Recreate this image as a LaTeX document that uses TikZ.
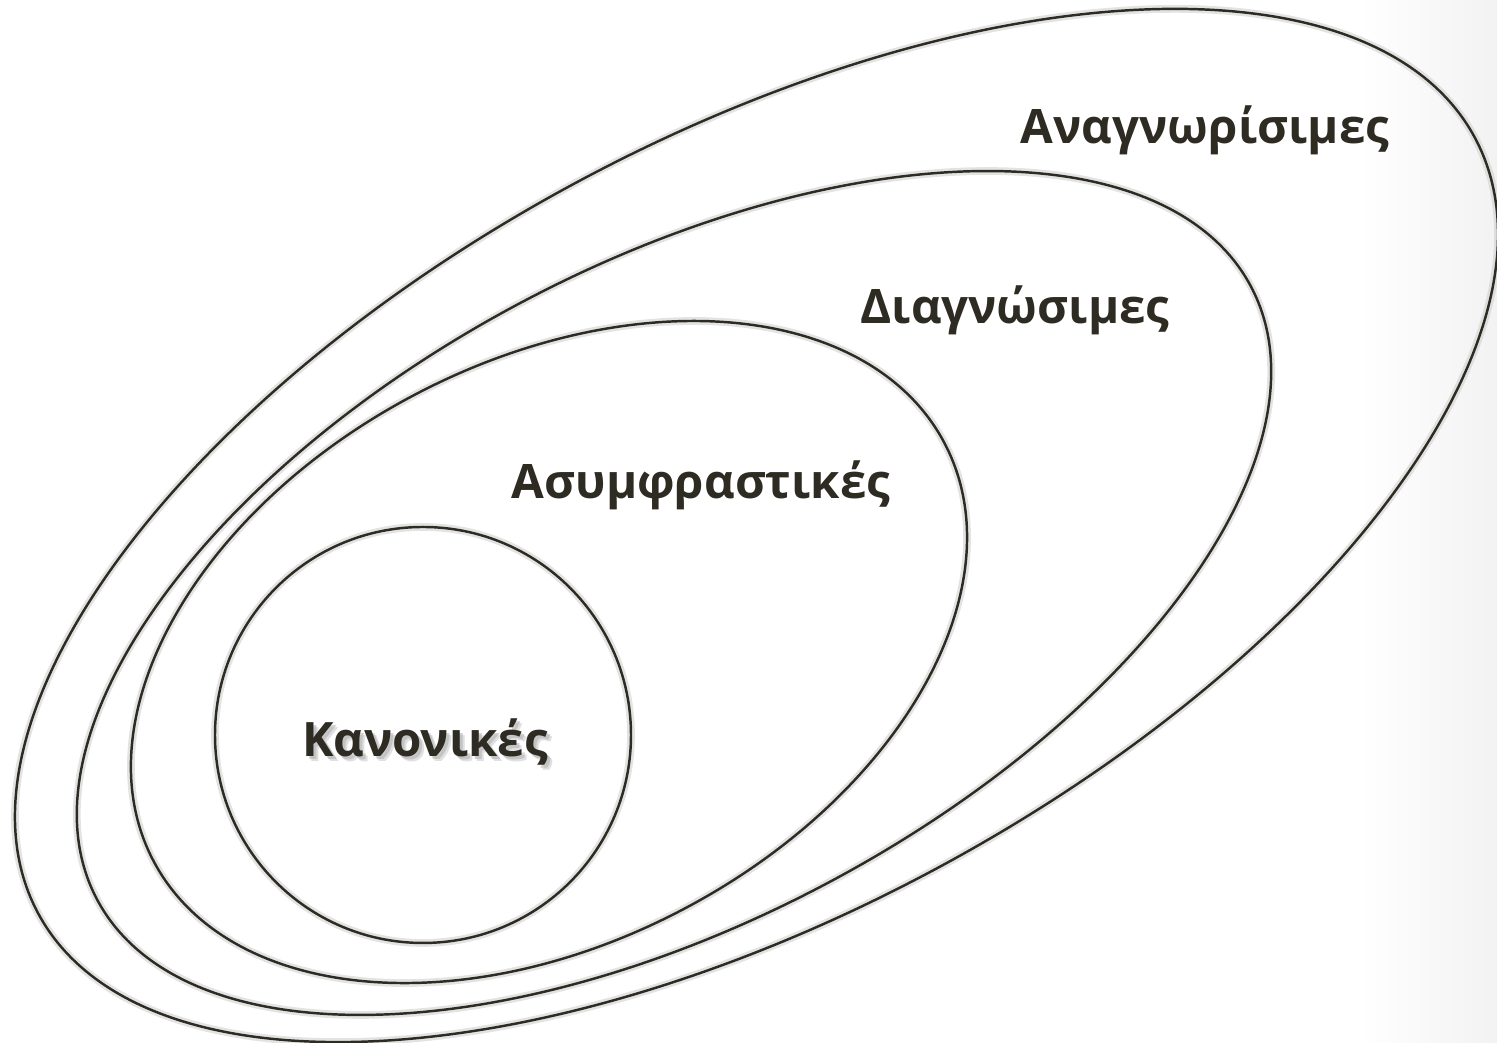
\documentclass[tikz,border=0pt]{standalone}
\usepackage{fontspec}
\setsansfont{Open Sans}
\usetikzlibrary{calc}
\definecolor{ink}{RGB}{46,43,35}
\begin{document}
\begin{tikzpicture}[every node/.style={font=\sffamily\bfseries\fontsize{13.5}{16}\selectfont, text=ink}, rim/.style={draw=ink, line width=0.7pt}, rimshade/.style={draw=black!18, line width=2.2pt, opacity=0.6, shift={(0.025,-0.03)}}]
	\useasboundingbox (0,0) rectangle (14.97,10.43);
	\shade[left color=white, right color=black!5] (13.6,0) rectangle (14.97,10.43);
	\coordinate (Rec) at (7.565,5.175);
	\coordinate (Dec) at (6.74,4.50);
	\coordinate (Ctx) at (5.49,3.91);
	\coordinate (Reg) at (4.23,3.08);
	\foreach \c/\a/\b/\t in {Rec/8.164/3.874/28.4, Dec/6.533/3.282/28.0, Ctx/4.473/2.902/27.9} {
		\draw[rimshade, rotate around={\t:(\c)}] (\c) ellipse ({\a} and {\b});
		\draw[rim, rotate around={\t:(\c)}] (\c) ellipse ({\a} and {\b});
	}
	\draw[rimshade] (Reg) circle (2.08);
	\draw[rim] (Reg) circle (2.08);
	\node (rec) at (12.05,9.13) {Αναγνωρίσιμες};
	\node (dec) at (10.15,7.33) {Διαγνώσιμες};
	\node (ctx) at (7.01,5.58) {Ασυμφραστικές};
	\node[text=black!20, opacity=0.6] at ($(4.25,3.01)+(0.05,-0.05)$) {Κανονικές};
	\node[text=black!30, opacity=0.6] at ($(4.25,3.01)+(0.03,-0.03)$) {Κανονικές};
	\node (reg) at (4.25,3.01) {Κανονικές};
\end{tikzpicture}
\end{document}
